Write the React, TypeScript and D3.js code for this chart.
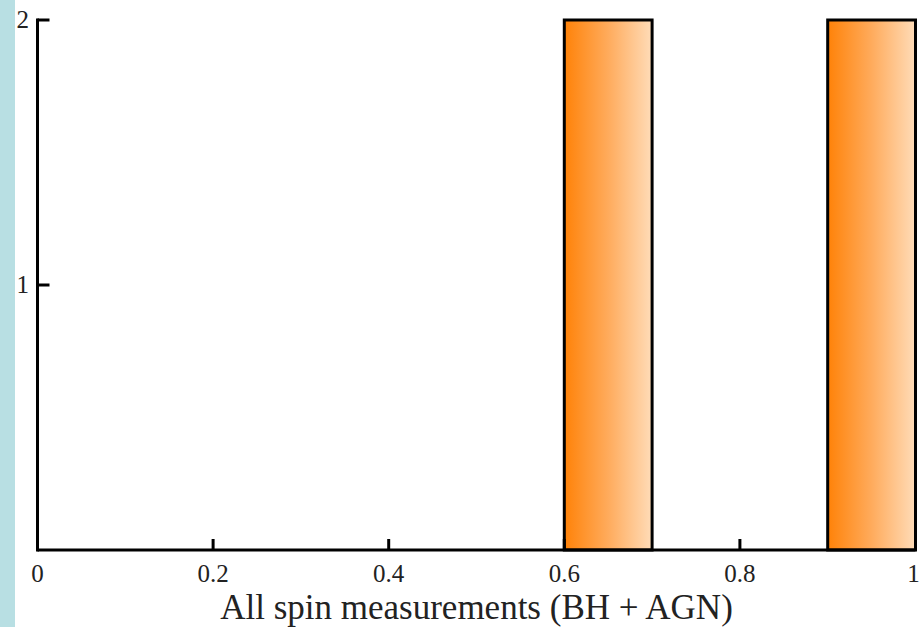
import React from "react";
import * as d3 from "d3";

// Histogram of spin values, bins of width 0.1 on [0, 1]
const binEdges = [0, 0.1, 0.2, 0.3, 0.4, 0.5, 0.6, 0.7, 0.8, 0.9, 1.0];
const binCounts = [0, 0, 0, 0, 0, 0, 2, 0, 0, 2];
const xTicks = [0, 0.2, 0.4, 0.6, 0.8, 1];
const xTickLabels = ["0", "0.2", "0.4", "0.6", "0.8", "1"];
const yTicks = [1, 2];
const yTickLabels = ["1", "2"];
const xAxisTitle = "All spin measurements (BH + AGN)";

const W = 919;
const H = 627;

export default function App() {
  const x = d3.scaleLinear().domain([0, 1]).range([37.5, 915.5]);
  const y = d3.scaleLinear().domain([0, 2]).range([550, 20]);
  const font = "'Liberation Serif', 'Times New Roman', serif";

  const bins = binCounts
    .map((c, i) => ({ x0: binEdges[i], x1: binEdges[i + 1], count: c }))
    .filter((b) => b.count > 0);

  return (
    <svg
      width={W}
      height={H}
      style={{ position: "absolute", left: 0, top: 0, background: "#ffffff" }}
      fontFamily={font}
    >
      <defs>
        <linearGradient id="barFill" x1="0" y1="0" x2="1" y2="0">
          <stop offset="0" stopColor="#ff8208" />
          <stop offset="0.5" stopColor="#ffab5c" />
          <stop offset="1" stopColor="#ffdcb8" />
        </linearGradient>
      </defs>
      <rect x={0} y={0} width={W} height={H} fill="#ffffff" />
      <rect x={0} y={0} width={15} height={H} fill="#b8dfe3" />

      {bins.map((b, i) => (
        <rect
          key={i}
          x={x(b.x0)}
          y={y(b.count)}
          width={x(b.x1) - x(b.x0)}
          height={y(0) - y(b.count)}
          fill="url(#barFill)"
          stroke="#000"
          strokeWidth={3}
        />
      ))}

      {/* axes */}
      <line x1={x(0)} x2={x(1)} y1={y(0)} y2={y(0)} stroke="#000" strokeWidth={3} />
      <line x1={x(0)} x2={x(0)} y1={y(0) + 1.5} y2={y(2) - 1.5} stroke="#000" strokeWidth={3} />

      {xTicks.map((t, i) => (
        <g key={"xt" + i}>
          {t > 0 && t < 1 && (
            <line x1={x(t)} x2={x(t)} y1={y(0)} y2={y(0) - 11} stroke="#000" strokeWidth={3} />
          )}
          <text
            x={t === 1 ? x(t) - 2 : x(t)}
            y={582}
            textAnchor="middle"
            fontSize={25}
            fill="#222"
          >
            {xTickLabels[i]}
          </text>
        </g>
      ))}

      {yTicks.map((t, i) => (
        <g key={"yt" + i}>
          <line x1={x(0)} x2={x(0) + 12} y1={y(t)} y2={y(t)} stroke="#000" strokeWidth={3} />
          <text x={29} y={y(t) + 8} textAnchor="end" fontSize={25} fill="#222">
            {yTickLabels[i]}
          </text>
        </g>
      ))}

      <text
        x={(212 + 741) / 2}
        y={619}
        textAnchor="middle"
        fontSize={35}
        fill="#222"
      >
        {xAxisTitle}
      </text>
    </svg>
  );
}
